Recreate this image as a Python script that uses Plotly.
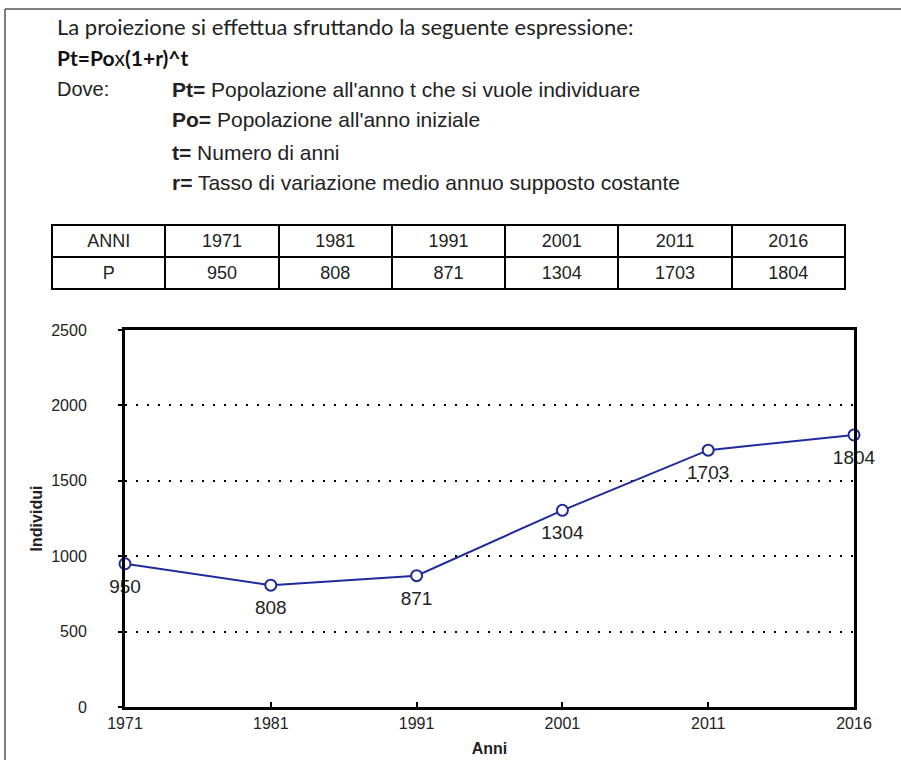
import plotly.graph_objects as go

# data
anni = ["1971", "1981", "1991", "2001", "2011", "2016"]
popolazione = [950, 808, 871, 1304, 1703, 1804]
y_ticks = [0, 500, 1000, 1500, 2000, 2500]

intro = "La proiezione si effettua sfruttando la seguente espressione:"
formula = "<b>Pt=Po</b>x<b>(1+r)^t</b>"
legenda = [
    ("Pt=", "Popolazione all'anno t che si vuole individuare"),
    ("Po=", "Popolazione all'anno iniziale"),
    ("t=", "Numero di anni"),
    ("r=", "Tasso di variazione medio annuo supposto costante"),
]

W, H = 901, 760
B = 53               # bottom margin
PH = H - B           # paper height in px


def px_x(x):
    return x / W


def px_y(y):
    return 1 - y / PH


LINE = "#1f2b9c"
TXT = "#222222"
ARIAL = "Liberation Sans, Arial, sans-serif"
CALIBRI = "Lato, Open Sans, sans-serif"

fig = go.Figure()

# table with the values
fig.add_trace(
    go.Table(
        domain=dict(x=[px_x(52), px_x(845)], y=[px_y(300), px_y(225)]),
        columnwidth=[1] * (len(anni) + 1),
        header=dict(
            values=["ANNI"] + anni,
            align="center",
            height=32,
            line=dict(color="black", width=2),
            fill=dict(color="white"),
            font=dict(family=ARIAL, size=18, color=TXT),
        ),
        cells=dict(
            values=[["P"]] + [[str(v)] for v in popolazione],
            align="center",
            height=32,
            line=dict(color="black", width=2),
            fill=dict(color="white"),
            font=dict(family=ARIAL, size=18, color=TXT),
        ),
    )
)

# population line
fig.add_trace(
    go.Scatter(
        x=anni,
        y=popolazione,
        mode="lines+markers",
        line=dict(color=LINE, width=2),
        marker=dict(symbol="circle", size=11, color="white",
                    line=dict(color=LINE, width=2)),
        cliponaxis=False,
        hovertemplate="%{x}: %{y}<extra></extra>",
        showlegend=False,
    )
)
# value labels (invisible larger markers push the text a bit lower)
fig.add_trace(
    go.Scatter(
        x=anni,
        y=popolazione,
        mode="markers+text",
        text=[str(v) for v in popolazione],
        textposition="bottom center",
        textfont=dict(family=ARIAL, size=19, color=TXT),
        marker=dict(size=22, opacity=0),
        cliponaxis=False,
        hoverinfo="skip",
        showlegend=False,
    )
)

annotations = [
    dict(x=px_x(55), y=px_y(27), text=intro, xanchor="left", yanchor="middle",
         font=dict(family=CALIBRI, size=22, color=TXT)),
    dict(x=px_x(55), y=px_y(57), text=formula, xanchor="left", yanchor="middle",
         font=dict(family=CALIBRI, size=21, color="#111111")),
    dict(x=px_x(55), y=px_y(89), text="Dove:", xanchor="left", yanchor="middle",
         font=dict(family=ARIAL, size=20, color=TXT)),
]
for i, (k, v) in enumerate(legenda):
    yy = [89, 120, 152, 183][i]
    annotations.append(
        dict(x=px_x(170), y=px_y(yy), text=f"<b>{k}</b> {v}", xanchor="left",
             yanchor="middle", font=dict(family=ARIAL, size=21, color=TXT))
    )
for a in annotations:
    a.update(xref="paper", yref="paper", showarrow=False)

fig.update_layout(
    width=W,
    height=H,
    margin=dict(l=0, r=0, t=0, b=B, autoexpand=False),
    paper_bgcolor="white",
    plot_bgcolor="white",
    showlegend=False,
    annotations=annotations,
    shapes=[
        # page frame (left and top edges)
        dict(type="line", xref="paper", yref="paper",
             x0=px_x(5), x1=px_x(5), y0=px_y(9), y1=px_y(H),
             line=dict(color="#555555", width=1.5)),
        dict(type="line", xref="paper", yref="paper",
             x0=px_x(5), x1=px_x(W), y0=px_y(9), y1=px_y(9),
             line=dict(color="#555555", width=1.5)),
    ],
    xaxis=dict(
        domain=[px_x(125), px_x(854)],
        type="category",
        range=[0, len(anni) - 1],
        showline=True, linecolor="black", linewidth=3, mirror=True,
        ticks="inside", ticklen=5, tickwidth=2, tickcolor="black",
        showgrid=False, zeroline=False,
        tickfont=dict(family=ARIAL, size=16, color=TXT),
        title=dict(text="<b>Anni</b>", standoff=12,
                   font=dict(family=ARIAL, size=16, color=TXT)),
        automargin=False,
    ),
    yaxis=dict(
        domain=[0, px_y(330)],
        range=[0, 2500],
        tickvals=y_ticks,
        showline=True, linecolor="black", linewidth=3, mirror=True,
        ticks="outside", ticklen=4, tickwidth=2, tickcolor="black",
        ticklabelstandoff=28,
        showgrid=True, gridcolor="black", gridwidth=2, griddash="2px,9px",
        zeroline=False,
        tickfont=dict(family=ARIAL, size=16, color=TXT),
        title=dict(text="<b>Individui</b>", standoff=5,
                   font=dict(family=ARIAL, size=16, color=TXT)),
        automargin=False,
    ),
)

# the page body has a default margin; remove it so the figure sits at 0,0
fig.write_html(
    "out.html",
    config={"displayModeBar": False},
    post_script="document.body.style.margin='0';",
)
